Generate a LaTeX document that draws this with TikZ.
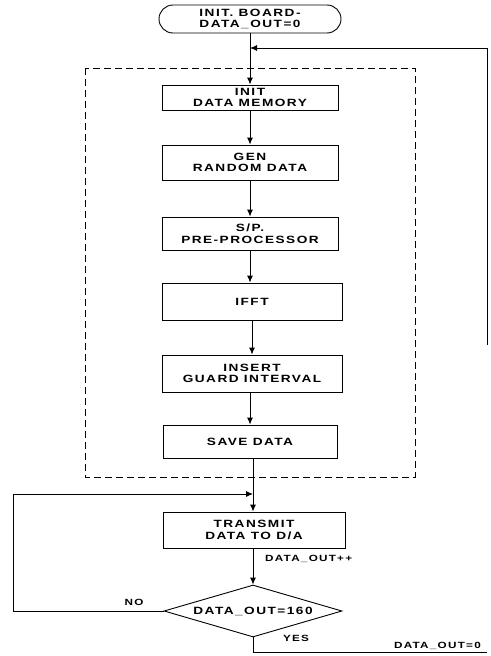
\documentclass[tikz,border=0pt]{standalone}
\usepackage{fontspec}
\setmainfont{Liberation Sans}[FakeStretch=1.3, LetterSpace=14]
\usetikzlibrary{arrows.meta,shapes.geometric}
\begin{document}
\begin{tikzpicture}[x=1pt,y=-1pt,
  every node/.style={font=\bfseries\fontsize{10.5}{11.5}\selectfont, align=center, inner sep=0pt},
  box/.style={draw, line width=0.9pt, minimum width=176pt},
  line/.style={line width=0.9pt},
  arr/.style={line, -{Latex[length=7pt,width=6pt]}},
  lbl/.style={font=\bfseries\fontsize{9}{10}\selectfont}
]
\useasboundingbox (0,0) rectangle (490,656);
% dashed group
\draw[line, dash pattern=on 7pt off 4pt] (85,68) rectangle (415,477);
% nodes
\node[box, rounded corners=14pt, minimum width=182pt, minimum height=28pt] (start) at (250,19) {INIT. BOARD-\\DATA\_OUT=0};
\node[box, minimum height=25pt] (b1) at (250,97.5) {INIT\\DATA MEMORY};
\node[box, minimum height=35pt] (b2) at (250,162.5) {GEN\\RANDOM DATA};
\node[box, minimum height=33pt] (b3) at (250,233.5) {S/P.\\PRE-PROCESSOR};
\node[box, minimum width=180pt, minimum height=37pt] (b4) at (252,301.5) {IFFT};
\node[box, minimum width=180pt, minimum height=37pt] (b5) at (252,373.5) {INSERT\\GUARD INTERVAL};
\node[box, minimum width=174pt, minimum height=33pt] (b6) at (250,441.5) {SAVE DATA};
\node[box, minimum width=182pt, minimum height=36pt] (b7) at (254,530) {TRANSMIT\\DATA TO D/A};
\node[draw, line width=0.9pt, diamond, aspect=3.4, minimum width=178pt, minimum height=52pt] (d) at (253,611) {DATA\_OUT=160};
% coordinates
\coordinate (jt) at (250,48);
\coordinate (rt) at (487,48);
\coordinate (rb) at (487,345);
\coordinate (jl) at (253,494);
\coordinate (lc) at (13,611);
\coordinate (bb) at (253,652);
\coordinate (be) at (487,652);
% connectors
\draw[arr] (start.south) -- (b1.north);
\draw[arr] (rb) -- (rt) -- (jt);
\draw[arr] (b1.south) -- (b2.north);
\draw[arr] (b2.south) -- (b3.north);
\draw[arr] (b3.south) -- (b3.south |- b4.north);
\draw[arr] (b4.south) -- (b5.north);
\draw[arr] (b5.south -| b6.north) -- (b6.north);
\draw[arr] (b6.south -| jl) -- (jl |- b7.north);
\draw[arr] (jl |- b7.south) -- (d.north);
\draw[arr] (d.west) -- (lc) |- (jl);
\draw[line] (d.south) -- (bb) -- (be);
% labels
\node[lbl, anchor=west] (lplus) at (265,559) {DATA\_OUT++};
\node[lbl] (lno) at (134,602) {NO};
\node[lbl] (lyes) at (296,638) {YES};
\node[lbl, anchor=south east] (lzero) at (481,650) {DATA\_OUT=0};
\end{tikzpicture}
\end{document}
